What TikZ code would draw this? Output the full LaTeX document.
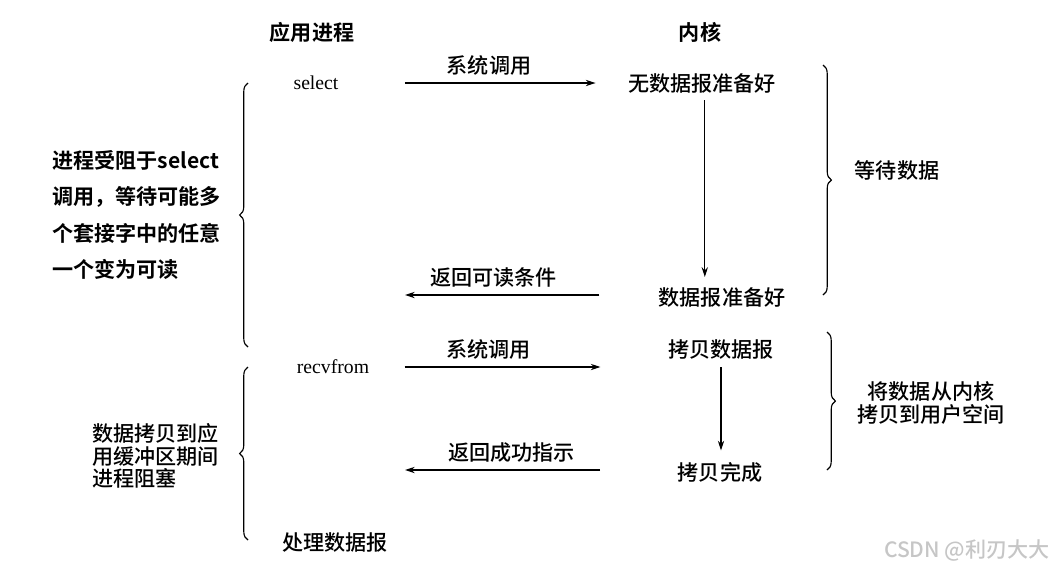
\documentclass[tikz,border=0pt]{standalone}
\usepackage{fontspec}
\setmainfont{Liberation Serif}
\newfontfamily\cjk{Noto Sans CJK SC Medium}
\newfontfamily\cjkb{Noto Sans CJK SC Bold}
\usetikzlibrary{decorations.pathreplacing,arrows.meta}
\begin{document}
\begin{tikzpicture}[x=0.025cm,y=-0.025cm,inner sep=0pt,
 zh/.style={font=\cjk\fontsize{15}{16}\selectfont},
 zhb/.style={font=\cjkb\fontsize{15}{16}\selectfont},
 call/.style={font=\fontsize{14}{16}\selectfont},
 flow/.style={-{Stealth[length=7pt,width=4.5pt]},line width=0.8pt},
 brc/.style={decorate,decoration={brace,amplitude=6pt},line width=0.8pt}]
 \useasboundingbox (0,0) rectangle (1060,568);
 \node[zhb] (app) at (312,32) {应用进程}; \node[zhb] (ker) at (700,32) {内核};
 \node[call] (sel) at (316,83) {select}; \node[zh] (k1) at (702,83) {无数据报准备好};
 \node[zh] (k2) at (722,297) {数据报准备好};
 \node[call] (rcv) at (333,367) {recvfrom}; \node[zh] (k3) at (721,350) {拷贝数据报};
 \node[zh] (k4) at (720,472) {拷贝完成}; \node[zh] (done) at (335,543) {处理数据报};
 \coordinate (r1) at (405,295); \coordinate (r2) at (405,470);
 \draw[flow,shorten <=47pt,shorten >=23pt] (sel.east) -- (sel.east -| k1.west) node[pos=0.52,above=5pt,zh] {系统调用};
 \draw[flow,shorten <=5pt,shorten >=7pt] ([xshift=2pt]k1.south) -- ([xshift=2pt]k1.south |- k2.north);
 \draw[flow,shorten <=42pt] (k2.west |- r1) -- (r1) node[pos=0.65,above=5pt,zh] {返回可读条件};
 \draw[flow,shorten <=25pt,shorten >=48pt] (rcv.east) -- (rcv.east -| k3.west) node[pos=0.4,above=5pt,zh] {系统调用};
 \draw[flow,shorten <=5pt,shorten >=8pt] (k3.south) -- (k3.south |- k4.north);
 \draw[flow,shorten <=55pt] (k4.west |- r2) -- (r2) node[pos=0.61,above=5pt,zh] {返回成功指示};
 \draw[brc] (248,347) -- (248,83); \draw[brc] (248,540) -- (248,367);
 \draw[brc] (823,65) -- (823,295); \draw[brc] (827,332) -- (827,470);
 \node[zhb,font=\cjkb\fontsize{15}{26}\selectfont,align=left,anchor=west] (why1) at (52,215) {进程受阻于select\\调用，等待可能多\\个套接字中的任意\\一个变为可读};
 \node[zh,align=left,anchor=west] (why2) at (92,456) {数据拷贝到应\\用缓冲区期间\\进程阻塞};
 \node[zh] (wait) at (897,170) {等待数据};
 \node[zh,align=center] (copy) at (931,403) {将数据从内核\\拷贝到用户空间};
 \node[font=\cjk\fontsize{15}{16}\selectfont,text=gray!45,anchor=east] (mark) at (1050,550) {CSDN @利刃大大};
\end{tikzpicture}
\end{document}
